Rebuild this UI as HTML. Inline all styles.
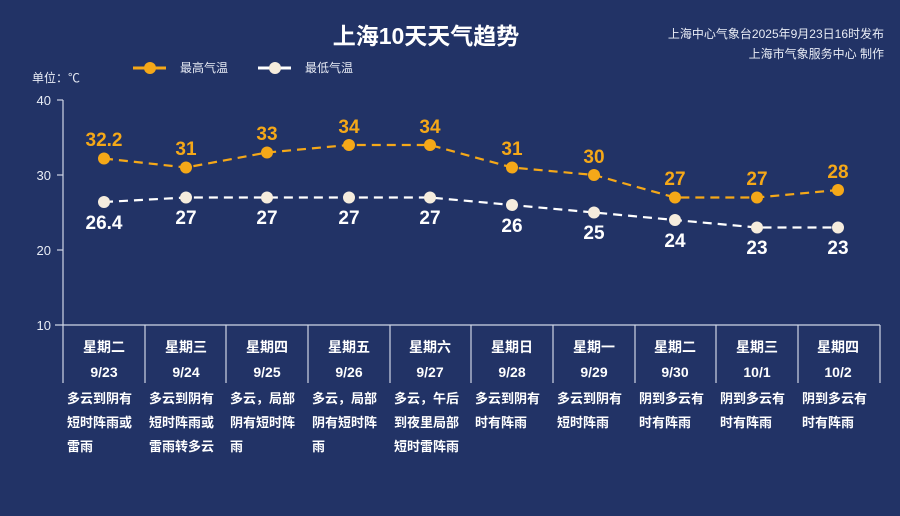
<!DOCTYPE html><html><head><meta charset="utf-8"><style>
body{margin:0;width:900px;height:511px;background:#223366;overflow:hidden;font-family:"Liberation Sans","Noto Sans CJK SC",sans-serif}
</style></head><body>
<svg width="900" height="511" xmlns="http://www.w3.org/2000/svg" font-family="Liberation Sans, Noto Sans CJK SC, sans-serif">
<rect width="900" height="511" fill="#223366"/>
<text x="426" y="44" fill="#fff" font-size="23" font-weight="bold" text-anchor="middle">上海10天天气趋势</text>
<text x="884" y="38" fill="#e8ecf5" font-size="12" text-anchor="end">上海中心气象台2025年9月23日16时发布</text>
<text x="884" y="58" fill="#e8ecf5" font-size="12" text-anchor="end">上海市气象服务中心 制作</text>
<line x1="133" y1="68" x2="166" y2="68" stroke="#f5a818" stroke-width="3"/><circle cx="150" cy="68" r="6" fill="#f5a818"/>
<text x="180" y="72" fill="#e8ecf5" font-size="12">最高气温</text>
<line x1="258" y1="68" x2="291" y2="68" stroke="#fff" stroke-width="3"/><circle cx="275" cy="68" r="6" fill="#f5ecdd"/>
<text x="305" y="72" fill="#e8ecf5" font-size="12">最低气温</text>
<text x="32" y="82" fill="#e8ecf5" font-size="12">单位：℃</text>
<g stroke="#cfd6e6" stroke-width="1.2">
<line x1="63" y1="100" x2="63" y2="383"/>
<line x1="57" y1="100" x2="63" y2="100"/><line x1="57" y1="175" x2="63" y2="175"/><line x1="57" y1="250" x2="63" y2="250"/>
<line x1="55" y1="325" x2="880" y2="325"/>
<line x1="145" y1="325" x2="145" y2="383"/><line x1="226" y1="325" x2="226" y2="383"/><line x1="308" y1="325" x2="308" y2="383"/><line x1="390" y1="325" x2="390" y2="383"/><line x1="471" y1="325" x2="471" y2="383"/><line x1="553" y1="325" x2="553" y2="383"/><line x1="635" y1="325" x2="635" y2="383"/><line x1="716" y1="325" x2="716" y2="383"/><line x1="798" y1="325" x2="798" y2="383"/><line x1="880" y1="325" x2="880" y2="383"/>
</g>
<g fill="#e8ecf5" font-size="13" text-anchor="end"><text x="51" y="105">40</text><text x="51" y="180">30</text><text x="51" y="255">20</text><text x="51" y="330">10</text></g>
<polyline fill="none" stroke="#f5a818" stroke-width="2.2" stroke-dasharray="9,6" points="104,158.5 186,167.5 267,152.5 349,145 430,145 512,167.5 594,175 675,197.5 757,197.5 838,190"/>
<polyline fill="none" stroke="#fff" stroke-width="2.2" stroke-dasharray="9,6" points="104,202 186,197.5 267,197.5 349,197.5 430,197.5 512,205 594,212.5 675,220 757,227.5 838,227.5"/>
<g fill="#f5a818"><circle cx="104" cy="158.5" r="6"/><circle cx="186" cy="167.5" r="6"/><circle cx="267" cy="152.5" r="6"/><circle cx="349" cy="145" r="6"/><circle cx="430" cy="145" r="6"/><circle cx="512" cy="167.5" r="6"/><circle cx="594" cy="175" r="6"/><circle cx="675" cy="197.5" r="6"/><circle cx="757" cy="197.5" r="6"/><circle cx="838" cy="190" r="6"/></g>
<g fill="#f5ecdd"><circle cx="104" cy="202" r="6"/><circle cx="186" cy="197.5" r="6"/><circle cx="267" cy="197.5" r="6"/><circle cx="349" cy="197.5" r="6"/><circle cx="430" cy="197.5" r="6"/><circle cx="512" cy="205" r="6"/><circle cx="594" cy="212.5" r="6"/><circle cx="675" cy="220" r="6"/><circle cx="757" cy="227.5" r="6"/><circle cx="838" cy="227.5" r="6"/></g>
<g fill="#f5a818" font-size="19" font-weight="bold" text-anchor="middle">
<text x="104" y="146">32.2</text><text x="186" y="155">31</text><text x="267" y="140">33</text><text x="349" y="133">34</text><text x="430" y="133">34</text><text x="512" y="155">31</text><text x="594" y="163">30</text><text x="675" y="185">27</text><text x="757" y="185">27</text><text x="838" y="178">28</text></g>
<g fill="#fff" font-size="19" font-weight="bold" text-anchor="middle">
<text x="104" y="229">26.4</text><text x="186" y="224">27</text><text x="267" y="224">27</text><text x="349" y="224">27</text><text x="430" y="224">27</text><text x="512" y="232">26</text><text x="594" y="239">25</text><text x="675" y="247">24</text><text x="757" y="254">23</text><text x="838" y="254">23</text></g>
<g fill="#fff" font-size="14" font-weight="bold" text-anchor="middle">
<text x="104" y="352">星期二</text><text x="186" y="352">星期三</text><text x="267" y="352">星期四</text><text x="349" y="352">星期五</text><text x="430" y="352">星期六</text><text x="512" y="352">星期日</text><text x="594" y="352">星期一</text><text x="675" y="352">星期二</text><text x="757" y="352">星期三</text><text x="838" y="352">星期四</text>
<text x="104" y="377">9/23</text><text x="186" y="377">9/24</text><text x="267" y="377">9/25</text><text x="349" y="377">9/26</text><text x="430" y="377">9/27</text><text x="512" y="377">9/28</text><text x="594" y="377">9/29</text><text x="675" y="377">9/30</text><text x="757" y="377">10/1</text><text x="838" y="377">10/2</text></g>
<g fill="#fff" font-size="13" font-weight="bold">
<text x="67" y="403">多云到阴有</text><text x="67" y="427">短时阵雨或</text><text x="67" y="451">雷雨</text>
<text x="149" y="403">多云到阴有</text><text x="149" y="427">短时阵雨或</text><text x="149" y="451">雷雨转多云</text>
<text x="230" y="403">多云，局部</text><text x="230" y="427">阴有短时阵</text><text x="230" y="451">雨</text>
<text x="312" y="403">多云，局部</text><text x="312" y="427">阴有短时阵</text><text x="312" y="451">雨</text>
<text x="394" y="403">多云，午后</text><text x="394" y="427">到夜里局部</text><text x="394" y="451">短时雷阵雨</text>
<text x="475" y="403">多云到阴有</text><text x="475" y="427">时有阵雨</text>
<text x="557" y="403">多云到阴有</text><text x="557" y="427">短时阵雨</text>
<text x="639" y="403">阴到多云有</text><text x="639" y="427">时有阵雨</text>
<text x="720" y="403">阴到多云有</text><text x="720" y="427">时有阵雨</text>
<text x="802" y="403">阴到多云有</text><text x="802" y="427">时有阵雨</text>
</g>
</svg>
</body></html>
